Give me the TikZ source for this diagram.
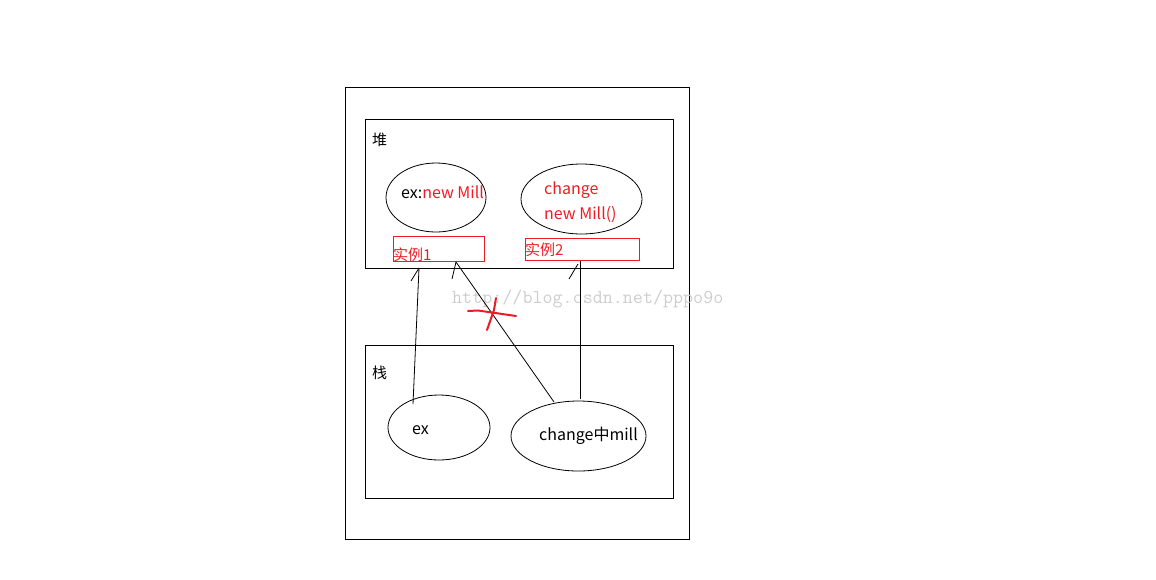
\documentclass[tikz,border=0pt]{standalone}
\usepackage{fontspec}
\setmainfont{Noto Sans CJK SC}
\usetikzlibrary{shapes.geometric}
\definecolor{pred}{RGB}{237,28,36}
\definecolor{wmgray}{RGB}{205,205,205}
\tikzset{
  box/.style={draw=black, line width=0.8pt},
  oval/.style={draw=black, ellipse, line width=0.8pt, inner sep=0pt},
  redbox/.style={draw=pred, line width=0.8pt, inner sep=0pt},
  lbl/.style={font=\fontsize{16}{16}\selectfont, inner sep=0pt},
  clbl/.style={font=\fontsize{15}{15}\selectfont, inner sep=0pt},
  link/.style={draw=black, line width=0.8pt},
}
\begin{document}
\begin{tikzpicture}[x=1pt,y=-1pt]
\useasboundingbox (0,0) rectangle (1156,579);
% outer frame
\node[box, minimum width=344pt, minimum height=452pt, inner sep=0pt] (outer) at (517,313) {};
% heap
\node[box, minimum width=308pt, minimum height=149pt, inner sep=0pt] (heap) at (519,193.5) {};
\node[clbl, anchor=west] (heaplbl) at (372,140) {堆};
\node[oval, minimum width=100pt, minimum height=69pt] (e1) at (436,197.5) {};
\node[lbl, anchor=west] (e1txt) at (401,192) {ex:\textcolor{pred}{new Mill}};
\node[oval, minimum width=121pt, minimum height=70pt] (e2) at (581.5,199) {};
\node[lbl, anchor=west, text=pred] (e2a) at (544,190) {change};
\node[lbl, anchor=west, text=pred] (e2b) at (544,215) {new Mill()};
\node[redbox, minimum width=91pt, minimum height=25pt] (inst1) at (438.5,248.5) {};
\node[clbl, anchor=west, text=pred] (inst1txt) at (393,255) {实例1};
\node[redbox, minimum width=114pt, minimum height=22pt] (inst2) at (582,249) {};
\node[clbl, anchor=west, text=pred] (inst2txt) at (525,250) {实例2};
% stack
\node[box, minimum width=308pt, minimum height=153pt, inner sep=0pt] (stack) at (519,421.5) {};
\node[clbl, anchor=west] (stacklbl) at (372,373) {栈};
\node[oval, minimum width=102pt, minimum height=65pt] (s1) at (439,427.5) {};
\node[lbl, anchor=west] (s1txt) at (412,430) {ex};
\node[oval, minimum width=135pt, minimum height=70pt] (s2) at (578.5,436) {};
\node[lbl, anchor=west] (s2txt) at (539,436) {change中mill};
% watermark
\node[inner sep=0pt, anchor=west, text=wmgray, font=\ttfamily\fontsize{19.5}{19.5}\selectfont] (wm) at (452,299) {http://blog.csdn.net/pppo9o};
% connectors
\coordinate (t1) at (419,268);
\coordinate (t2) at (456,262);
\coordinate (t3) at (580,261);
\coordinate (b1) at (413,404);
\coordinate (b2) at (554,402);
\coordinate (b3) at (580,399);
\draw[link] (b1) -- (t1);
\draw[link] (t1) -- ++(-8,13);
\draw[link] (b2) -- (t2);
\draw[link] (t2) -- ++(-4,17);
\draw[link] (b3) -- (t3);
\draw[link] (578,264) -- ++(-9,15);
% red cross
\draw[draw=pred, line width=2pt, line cap=round] (468,311) -- (478,310.5) -- (516,316);
\draw[draw=pred, line width=2pt, line cap=round] (496,298) -- (494,310) -- (487,330);
\end{tikzpicture}
\end{document}
